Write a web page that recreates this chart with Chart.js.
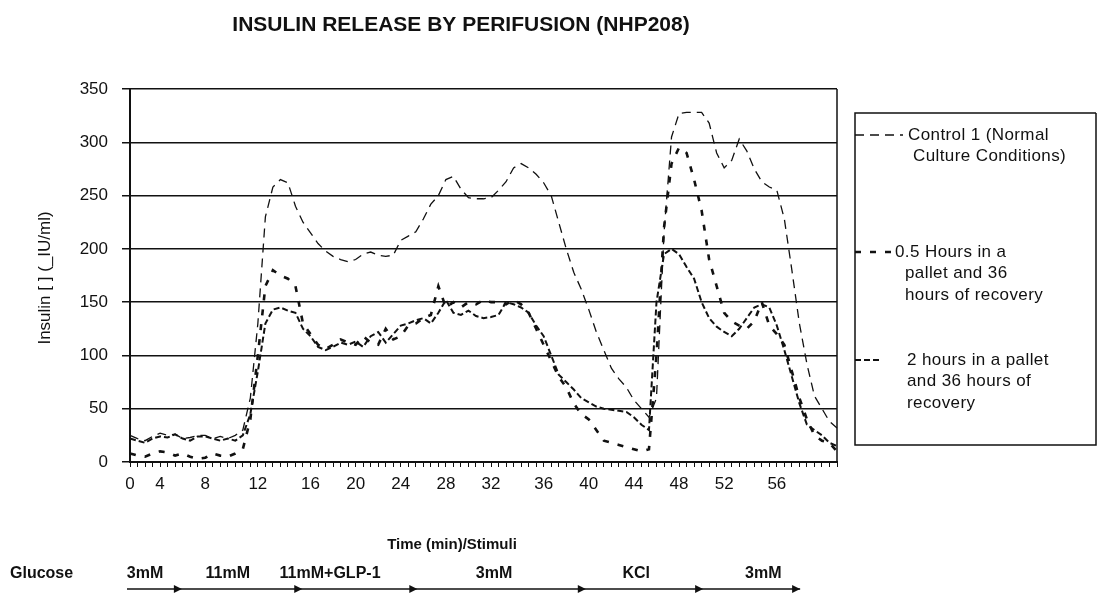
<!DOCTYPE html>
<html>
<head>
<meta charset="utf-8">
<script src="https://cdn.jsdelivr.net/npm/chart.js@4.4.1/dist/chart.umd.min.js"></script>
<style>
  html, body { margin: 0; padding: 0; background: #fff; }
  #wrap { position: relative; width: 1098px; height: 598px; }
</style>
</head>
<body>
<div id="wrap"><canvas id="chart"></canvas></div>
<script>
const FONT = "'Liberation Sans', Arial, sans-serif";
const INK = '#111';

// x categories (one per sample), only some carry a time label (min)
const timeLabels = [
  '0', '', '', '', '4', '', '', '', '', '',
  '8', '', '', '', '', '', '', '12', '', '',
  '', '', '', '', '16', '', '', '', '', '',
  '20', '', '', '', '', '', '24', '', '', '',
  '', '', '28', '', '', '', '', '', '32', '',
  '', '', '', '', '', '36', '', '', '', '',
  '', '40', '', '', '', '', '', '44', '', '',
  '', '', '', '48', '', '', '', '', '', '52',
  '', '', '', '', '', '', '56', '', '', '',
  '', '', '', '', ''
];

// Control 1 (Normal Culture Conditions)
const control = [
  25, 22, 20, 24, 27, 25, 26, 22, 23, 25,
  25, 22, 24, 22, 25, 30, 60, 130, 230, 258,
  265, 262, 240, 225, 215, 205, 198, 193, 190, 188,
  190, 195, 197, 194, 193, 194, 208, 212, 216, 228,
  242, 250, 265, 268, 256, 248, 247, 247, 248, 255,
  263, 276, 280, 276, 270, 262, 250, 225, 200, 178,
  162, 143, 122, 105, 88, 78, 70, 58, 50, 42,
  60, 215, 305, 327, 328, 328, 328, 318, 290, 276,
  283, 303, 292, 275, 263, 258, 255, 228, 180, 130,
  92, 62, 50, 38, 32
];

// 0.5 hours in a pallet and 36 hours of recovery
const halfHour = [
  8, 6, 5, 8, 10, 9, 6, 8, 5, 3,
  4, 8, 6, 5, 8, 12, 40, 100, 165, 180,
  175, 172, 165, 130, 120, 110, 106, 110, 115, 112,
  110, 118, 112, 110, 125, 115, 118, 128, 130, 135,
  138, 165, 145, 150, 145, 150, 148, 152, 150, 150,
  148, 152, 148, 140, 125, 110, 95, 80, 70, 55,
  45, 40, 30, 20, 18, 16, 14, 12, 10, 12,
  100, 220, 280, 295, 290, 265, 236, 190, 165, 140,
  132, 128, 125, 132, 150, 128, 120, 110, 85, 60,
  40, 25, 20, 18, 10
];

// 2 hours in a pallet and 36 hours of recovery
const twoHours = [
  22, 20, 18, 22, 24, 23, 26, 22, 20, 24,
  24, 22, 20, 22, 20, 25, 45, 85, 130, 143,
  145, 142, 140, 125, 118, 108, 105, 108, 112, 110,
  113, 108, 118, 122, 112, 120, 128, 130, 133, 135,
  130, 140, 152, 140, 138, 142, 137, 135, 136, 138,
  150, 148, 145, 140, 128, 118, 100, 82, 75, 68,
  60, 56, 52, 50, 49, 48, 47, 42, 35, 30,
  150, 195, 200, 195, 183, 172, 150, 135, 127, 122,
  118, 125, 135, 145, 148, 145, 128, 105, 80, 55,
  35, 30, 25, 18, 15
];

const yTicks = [0, 50, 100, 150, 200, 250, 300, 350];

// stimulus bar under the axis (positions in sample index units)
const stimuli = ['3mM', '11mM', '11mM+GLP-1', '3mM', 'KCl', '3mM'];
const stimulusLabelAt = [2.0, 13.0, 26.6, 48.4, 67.3, 84.2];
const stimulusEndAt = [6.9, 22.9, 38.2, 60.6, 76.2, 89.1];

const datasets = [
  { label: 'Control 1 (Normal Culture Conditions)', data: control,
    borderColor: INK, borderWidth: 1.3, borderDash: [9, 6] },
  { label: '0.5 Hours in a pallet and 36 hours of recovery', data: halfHour,
    borderColor: INK, borderWidth: 2.6, borderDash: [6, 9] },
  { label: '2 hours in a pallet and 36 hours of recovery', data: twoHours,
    borderColor: INK, borderWidth: 2, borderDash: [6, 3] }
].map(d => Object.assign(d, { pointRadius: 0, tension: 0, fill: false }));

// legend box drawn by hand, text split like the original
const legendRows = [
  { ds: 0, y: 135, from: 855, to: 903, lines: [['Control 1 (Normal', 908], ['Culture Conditions)', 913]] },
  { ds: 1, y: 252, from: 855, to: 891, lines: [['0.5 Hours in a', 895], ['pallet and 36', 905], ['hours of recovery', 905]] },
  { ds: 2, y: 360, from: 855, to: 882, lines: [['2 hours in a pallet', 907], ['and 36 hours of', 907], ['recovery', 907]] }
];

const decorations = {
  id: 'decorations',
  afterDraw(chart) {
    const ctx = chart.ctx;
    const area = chart.chartArea;
    const xs = chart.scales.x;
    ctx.save();

    // right frame of the plot
    ctx.strokeStyle = INK;
    ctx.lineWidth = 1.5;
    ctx.beginPath();
    ctx.moveTo(area.right, area.top);
    ctx.lineTo(area.right, area.bottom);
    ctx.stroke();

    ctx.fillStyle = INK;
    ctx.textBaseline = 'middle';

    // title
    ctx.textAlign = 'center';
    ctx.font = `bold 21px ${FONT}`;
    ctx.fillText('INSULIN RELEASE BY PERIFUSION (NHP208)', 461, 25);

    // y axis title
    ctx.save();
    ctx.translate(45, 278);
    ctx.rotate(-Math.PI / 2);
    ctx.font = `17px ${FONT}`;
    ctx.fillText('Insulin [ ] (_IU/ml)', 0, 0);
    ctx.restore();

    // x axis title + stimuli
    ctx.font = `bold 15px ${FONT}`;
    ctx.fillText('Time (min)/Stimuli', 452, 545);
    ctx.textAlign = 'left';
    ctx.font = `bold 16px ${FONT}`;
    ctx.fillText('Glucose', 10, 574);
    ctx.textAlign = 'center';
    stimuli.forEach((s, i) => {
      ctx.fillText(s, xs.getPixelForValue(stimulusLabelAt[i]), 574);
    });

    const arrowY = 589;
    const startX = xs.getPixelForValue(0) - 3;
    const endX = xs.getPixelForValue(stimulusEndAt[stimulusEndAt.length - 1]);
    ctx.lineWidth = 1.4;
    ctx.beginPath();
    ctx.moveTo(startX, arrowY);
    ctx.lineTo(endX, arrowY);
    ctx.stroke();
    stimulusEndAt.forEach(v => {
      const px = xs.getPixelForValue(v);
      ctx.beginPath();
      ctx.moveTo(px, arrowY);
      ctx.lineTo(px - 8, arrowY - 4);
      ctx.lineTo(px - 8, arrowY + 4);
      ctx.closePath();
      ctx.fill();
    });

    // legend
    ctx.lineWidth = 1.5;
    ctx.beginPath();
    ctx.moveTo(1096, 113);
    ctx.lineTo(855, 113);
    ctx.lineTo(855, 445);
    ctx.lineTo(1096, 445);
    ctx.lineTo(1096, 113);
    ctx.stroke();

    ctx.textAlign = 'left';
    ctx.font = `17px ${FONT}`;
    ctx.letterSpacing = '0.4px';
    legendRows.forEach(row => {
      const ds = chart.data.datasets[row.ds];
      ctx.save();
      ctx.strokeStyle = ds.borderColor;
      ctx.lineWidth = ds.borderWidth;
      ctx.setLineDash(ds.borderDash);
      ctx.beginPath();
      ctx.moveTo(row.from, row.y);
      ctx.lineTo(row.to, row.y);
      ctx.stroke();
      ctx.restore();
      row.lines.forEach((ln, i) => ctx.fillText(ln[0], ln[1], row.y + i * 21.5));
    });

    ctx.restore();
  }
};

new Chart(document.getElementById('chart'), {
  type: 'line',
  data: { labels: timeLabels, datasets: datasets },
  options: {
    responsive: true,
    maintainAspectRatio: false,
    animation: false,
    layout: { padding: { top: 89, right: 261, left: 0, bottom: 0 } },
    plugins: { legend: { display: false }, tooltip: { enabled: false } },
    scales: {
      x: {
        type: 'category',
        grid: { drawOnChartArea: false, drawTicks: true, tickLength: 5, color: INK, lineWidth: 1 },
        border: { display: true, color: INK, width: 2 },
        ticks: { autoSkip: false, maxRotation: 0, minRotation: 0, padding: 7, color: INK,
                 font: { family: FONT, size: 17 } },
        afterFit: s => { s.height = 136; }
      },
      y: {
        min: 0, max: 350,
        afterBuildTicks: s => { s.ticks = yTicks.map(v => ({ value: v })); },
        grid: { color: INK, lineWidth: 1.5, tickLength: 8 },
        border: { display: true, color: INK, width: 2 },
        ticks: { padding: 14, color: INK, font: { family: FONT, size: 17 } },
        afterFit: s => { s.width = 130; }
      }
    }
  },
  plugins: [decorations]
});
</script>
</body>
</html>
